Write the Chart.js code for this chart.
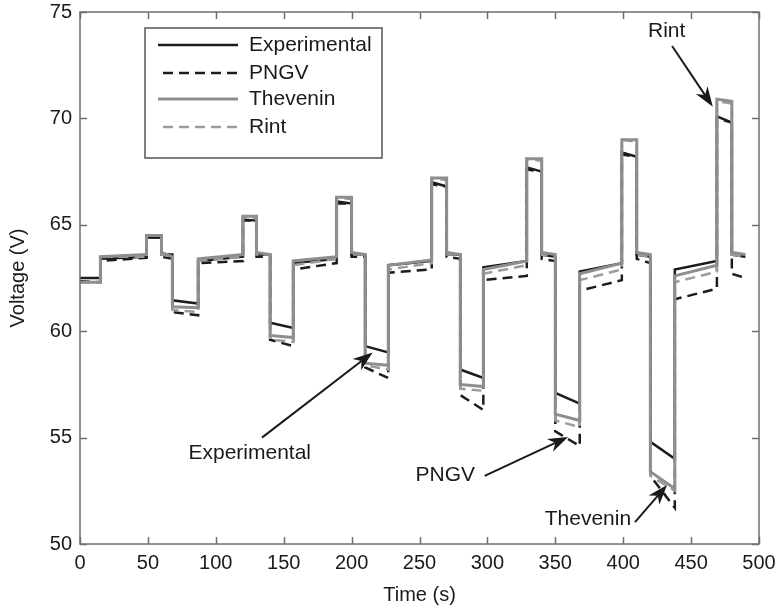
<!DOCTYPE html>
<html>
<head>
<meta charset="utf-8">
<script src="https://cdn.jsdelivr.net/npm/chart.js@4.4.0/dist/chart.umd.min.js"></script>
<style>
  html, body { margin: 0; padding: 0; background: #fff; }
</style>
</head>
<body>
<canvas id="voltageChart" width="777" height="610"></canvas>
<script>
// segment boundaries (s): segment i runs from timeBreaks[i] to timeBreaks[i + 1]
const timeBreaks = [0, 15, 49, 60, 68, 87, 120, 130, 140, 157, 189, 200, 210, 227, 259, 270, 280, 297, 329, 340, 350, 368, 399, 410, 420, 438, 469, 480, 490];

// voltage at start / end of each segment (V)
const experimentalStart = [62.5, 63.4, 64.4, 63.6, 61.45, 63.3, 65.25, 63.6, 60.4, 63.2, 66.1, 63.6, 59.3, 63.1, 67.0, 63.6, 58.2, 63.0, 67.7, 63.6, 57.1, 62.8, 68.4, 63.6, 54.8, 62.9, 70.1, 63.6];
const experimentalEnd   = [62.5, 63.5, 64.4, 63.6, 61.3, 63.5, 65.2, 63.6, 60.15, 63.4, 66.0, 63.6, 59.0, 63.3, 66.8, 63.6, 57.8, 63.3, 67.5, 63.5, 56.6, 63.2, 68.2, 63.5, 54.0, 63.3, 69.8, 63.5];

const pngvStart = [62.35, 63.3, 64.4, 63.5, 60.9, 63.2, 65.2, 63.5, 59.6, 62.9, 66.0, 63.5, 58.3, 62.75, 66.9, 63.5, 57.0, 62.4, 67.6, 63.4, 55.3, 61.9, 68.3, 63.4, 53.2, 61.5, 70.0, 62.7];
const pngvEnd   = [62.3, 63.45, 64.4, 63.4, 60.75, 63.3, 65.2, 63.5, 59.3, 63.2, 66.0, 63.5, 57.8, 62.9, 66.8, 63.4, 56.3, 62.6, 67.5, 63.3, 54.6, 62.4, 68.2, 63.2, 51.7, 62.0, 69.8, 62.5];

const theveninStart = [62.3, 63.5, 64.5, 63.7, 61.15, 63.4, 65.4, 63.7, 59.8, 63.3, 66.3, 63.7, 58.5, 63.1, 67.2, 63.7, 57.5, 62.9, 68.1, 63.7, 56.1, 62.7, 69.0, 63.7, 53.4, 62.6, 70.9, 63.7];
const theveninEnd   = [62.3, 63.6, 64.5, 63.5, 61.1, 63.6, 65.4, 63.6, 59.7, 63.5, 66.3, 63.6, 58.4, 63.35, 67.2, 63.6, 57.4, 63.3, 68.1, 63.6, 55.8, 63.2, 69.0, 63.6, 52.6, 63.1, 70.8, 63.6];

const rintStart = [62.3, 63.5, 64.5, 63.6, 61.0, 63.3, 65.4, 63.6, 59.6, 63.1, 66.3, 63.6, 58.4, 62.9, 67.2, 63.6, 57.3, 62.7, 68.1, 63.6, 55.8, 62.4, 69.0, 63.6, 53.2, 62.3, 70.8, 63.6];
const rintEnd   = [62.3, 63.5, 64.5, 63.5, 60.9, 63.5, 65.3, 63.6, 59.5, 63.4, 66.2, 63.6, 58.2, 63.2, 67.1, 63.6, 57.2, 63.1, 68.0, 63.5, 55.5, 62.9, 68.9, 63.5, 52.5, 62.8, 70.7, 63.5];

const xTickStep = 50;
const yTickStep = 5;

const FONT = '"Liberation Sans", Arial, Helvetica, sans-serif';
const TEXT = '#1a1a1a';
const BLACK = '#1c1c1c';
const GRAY = '#8e8e8e';
const GRAY_LIGHT = '#9c9c9c';

function stepSeries(starts, ends) {
    const pts = [];
    for (let i = 0; i < starts.length; i++) {
        pts.push({ x: timeBreaks[i], y: starts[i] });
        pts.push({ x: timeBreaks[i + 1], y: ends[i] });
    }
    return pts;
}

// callouts, in data units
const callouts = [
    { text: 'Experimental', tx: 125, ty: 54.25, from: [134, 55.0], to: [215.5, 59.0] },
    { text: 'PNGV', tx: 269, ty: 53.25, from: [298, 53.2], to: [359.4, 55.03] },
    { text: 'Thevenin', tx: 374, ty: 51.15, from: [408.7, 51.03], to: [432.3, 52.77] },
    { text: 'Rint', tx: 432, ty: 74.1, from: [436, 73.4], to: [466, 70.55] }
];

function drawArrow(ctx, x1, y1, x2, y2) {
    const a = Math.atan2(y2 - y1, x2 - x1);
    const len = 20, half = 7;
    const c = Math.cos(a), s = Math.sin(a);
    const bx = x2 - len * c, by = y2 - len * s;
    ctx.beginPath();
    ctx.moveTo(x1, y1);
    ctx.lineTo(x2 - len * 0.7 * c, y2 - len * 0.7 * s);
    ctx.stroke();
    ctx.beginPath();
    ctx.moveTo(x2, y2);
    ctx.lineTo(bx + half * s, by - half * c);
    ctx.lineTo(x2 - len * 0.7 * c, y2 - len * 0.7 * s);
    ctx.lineTo(bx - half * s, by + half * c);
    ctx.closePath();
    ctx.fill();
}

// box around the axes with inward ticks on all four sides
const framePlugin = {
    id: 'frame',
    afterDatasetsDraw(chart) {
        const { ctx, chartArea: a, scales: { x, y } } = chart;
        const tl = 7;
        ctx.save();
        ctx.strokeStyle = '#6f6f6f';
        ctx.lineWidth = 1.5;
        ctx.strokeRect(a.left, a.top, a.right - a.left, a.bottom - a.top);
        ctx.beginPath();
        x.ticks.forEach(t => {
            const px = Math.round(x.getPixelForValue(t.value)) + 0.5;
            ctx.moveTo(px, a.bottom); ctx.lineTo(px, a.bottom - tl);
            ctx.moveTo(px, a.top); ctx.lineTo(px, a.top + tl);
        });
        y.ticks.forEach(t => {
            const py = Math.round(y.getPixelForValue(t.value)) + 0.5;
            ctx.moveTo(a.left, py); ctx.lineTo(a.left + tl, py);
            ctx.moveTo(a.right, py); ctx.lineTo(a.right - tl, py);
        });
        ctx.stroke();
        ctx.restore();
    }
};

// legend box inside the axes + arrow callouts
const overlayPlugin = {
    id: 'overlay',
    afterDraw(chart) {
        const { ctx, scales: { x, y } } = chart;
        ctx.save();
        ctx.font = '21px ' + FONT;
        ctx.fillStyle = TEXT;
        ctx.strokeStyle = TEXT;
        ctx.lineWidth = 2;
        ctx.textBaseline = 'middle';
        ctx.textAlign = 'center';
        callouts.forEach(c => {
            ctx.fillText(c.text, x.getPixelForValue(c.tx), y.getPixelForValue(c.ty));
            drawArrow(ctx,
                x.getPixelForValue(c.from[0]), y.getPixelForValue(c.from[1]),
                x.getPixelForValue(c.to[0]), y.getPixelForValue(c.to[1]));
        });

        // legend
        const lx = 145, ly = 28, lw = 237, lh = 130;
        ctx.fillStyle = '#fff';
        ctx.fillRect(lx, ly, lw, lh);
        ctx.strokeStyle = '#555';
        ctx.lineWidth = 1.5;
        ctx.strokeRect(lx, ly, lw, lh);
        const rows = [45, 73, 99, 127];
        chart.data.datasets.forEach((ds, i) => {
            const ry = rows[i];
            ctx.beginPath();
            ctx.strokeStyle = ds.borderColor;
            ctx.lineWidth = ds.borderWidth;
            ctx.setLineDash(ds.borderDash || []);
            ctx.moveTo(ds.borderDash ? 163 : 158, ry);
            ctx.lineTo(238, ry);
            ctx.stroke();
            ctx.setLineDash([]);
            ctx.fillStyle = TEXT;
            ctx.textAlign = 'left';
            ctx.fillText(ds.label, 249, ry);
        });
        ctx.restore();
    }
};

new Chart(document.getElementById('voltageChart'), {
    type: 'line',
    data: {
        datasets: [{
            label: 'Experimental',
            data: stepSeries(experimentalStart, experimentalEnd),
            borderColor: BLACK,
            borderWidth: 2.5,
            order: 2
        }, {
            label: 'PNGV',
            data: stepSeries(pngvStart, pngvEnd),
            borderColor: BLACK,
            borderWidth: 2.5,
            borderDash: [10, 6],
            order: 3
        }, {
            label: 'Thevenin',
            data: stepSeries(theveninStart, theveninEnd),
            borderColor: GRAY,
            borderWidth: 3,
            order: 0
        }, {
            label: 'Rint',
            data: stepSeries(rintStart, rintEnd),
            borderColor: GRAY_LIGHT,
            borderWidth: 2.5,
            borderDash: [10, 6],
            order: 1
        }]
    },
    options: {
        responsive: false,
        animation: false,
        devicePixelRatio: 1,
        layout: { padding: { top: 12, right: 18, left: 0, bottom: 0 } },
        elements: {
            point: { radius: 0 },
            line: { tension: 0, fill: false }
        },
        plugins: {
            legend: { display: false },
            tooltip: { enabled: false }
        },
        scales: {
            x: {
                type: 'linear',
                min: 0,
                max: 500,
                grid: { display: false, drawTicks: false },
                border: { display: false },
                ticks: { stepSize: xTickStep, padding: 7, color: TEXT, font: { family: FONT, size: 20 }, maxRotation: 0 },
                title: { display: true, text: 'Time (s)', color: TEXT, font: { family: FONT, size: 20 }, padding: { top: 4, bottom: 3 } },
                afterFit(scale) {
                    scale.height = 66;
                    scale.paddingLeft = 0;
                    scale.paddingRight = 0;
                }
            },
            y: {
                min: 50,
                max: 75,
                grid: { display: false, drawTicks: false },
                border: { display: false },
                ticks: { stepSize: yTickStep, padding: 8, color: TEXT, font: { family: FONT, size: 20 } },
                title: { display: true, text: 'Voltage (V)', color: TEXT, font: { family: FONT, size: 20 }, padding: { top: 6, bottom: 4 } },
                afterFit(scale) {
                    scale.width = 80;
                    scale.paddingTop = 0;
                    scale.paddingBottom = 0;
                }
            }
        }
    },
    plugins: [framePlugin, overlayPlugin]
});
</script>
</body>
</html>
